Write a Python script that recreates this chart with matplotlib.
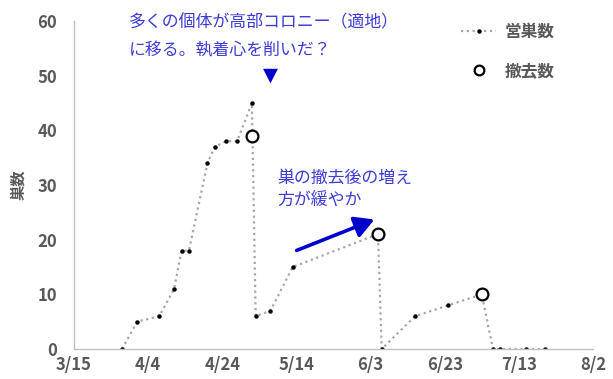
import datetime as dt

import matplotlib
matplotlib.use("Agg")
import matplotlib.dates as mdates
import matplotlib.pyplot as plt
from matplotlib.lines import Line2D

plt.rcParams["font.family"] = ["Noto Sans CJK JP", "DejaVu Sans"]

# --- Data ---
start = dt.date(2021, 3, 15)
nest_days = [13, 17, 23, 27, 29, 31, 36, 38, 41, 44, 48, 49, 53, 59, 82, 83,
             92, 101, 110, 113, 115, 122, 127]
nest_counts = [0, 5, 6, 11, 18, 18, 34, 37, 38, 38, 45, 6, 7, 15, 21, 0,
               6, 8, 10, 0, 0, 0, 0]
removal_days = [48, 82, 110]
removal_counts = [39, 21, 10]
tick_days = [0, 20, 40, 60, 80, 100, 120, 140]

nest_dates = [start + dt.timedelta(days=d) for d in nest_days]
removal_dates = [start + dt.timedelta(days=d) for d in removal_days]
tick_dates = [start + dt.timedelta(days=d) for d in tick_days]

W, H = 613, 379
grey = "#595959"
blue_text = "#3b3bd6"
blue_mark = "#0000cc"


def px(x, y):
    """Pixel position (from top-left) to figure fraction."""
    return x / W, 1 - y / H


fig = plt.figure(figsize=(W / 100, H / 100), dpi=100)
ax = fig.add_axes([74 / W, 30 / H, (593 - 74) / W, (349 - 21) / H])

ax.plot(nest_dates, nest_counts, linestyle=(0, (1, 1.6)), color="#a6a6a6",
        linewidth=1.6, marker="o", markersize=2.2, markerfacecolor="black",
        markeredgecolor="black", zorder=2)
ax.plot(removal_dates, removal_counts, linestyle="none", marker="o",
        markersize=8.5, markerfacecolor="white", markeredgecolor="black",
        markeredgewidth=1.6, zorder=3)

ax.set_xlim(tick_dates[0], tick_dates[-1])
ax.set_ylim(0, 60)
ax.set_xticks(tick_dates)
ax.xaxis.set_major_formatter(
    matplotlib.ticker.FuncFormatter(
        lambda v, pos: f"{mdates.num2date(v).month}/{mdates.num2date(v).day}"))
ax.set_yticks(range(0, 61, 10))
ax.tick_params(length=0, labelsize=12, labelcolor=grey)
ax.tick_params(axis="x", pad=5)
ax.tick_params(axis="y", pad=12)
for lab in ax.get_xticklabels() + ax.get_yticklabels():
    lab.set_fontweight("bold")

for side in ["top", "right"]:
    ax.spines[side].set_visible(False)
ax.spines["left"].set_color("#bfbfbf")
ax.spines["bottom"].set_color("#bfbfbf")
ax.spines["left"].set_linewidth(1.0)
ax.spines["bottom"].set_linewidth(1.0)

fig.text(*px(18, 185), "巣数", rotation=90, ha="center", va="center",
         fontsize=11, fontweight="bold", color=grey)

# Notes on the chart
fig.text(*px(129, 22), "多くの個体が高部コロニー（適地）", ha="left", va="center",
         fontsize=12.2, color=blue_text)
fig.text(*px(129, 50), "に移る。執着心を削いだ？", ha="left", va="center",
         fontsize=12.2, color=blue_text)
fig.text(*px(270, 75), "▼", ha="center", va="center", fontsize=14,
         color=blue_mark, family=["DejaVu Sans"])

fig.text(*px(277, 178), "巣の撤去後の増え", ha="left", va="center",
         fontsize=12.2, color=blue_text)
fig.text(*px(277, 200), "方が緩やか", ha="left", va="center",
         fontsize=12.2, color=blue_text)
fig.add_artist(matplotlib.patches.FancyArrowPatch(
    px(294, 251.5), px(377, 218.5), transform=fig.transFigure,
    arrowstyle="-|>,head_length=9,head_width=5", mutation_scale=1.3,
    color=blue_mark, linewidth=2.6))

# Legend
handles = [
    Line2D([], [], linestyle=(0, (1, 1.6)), color="#a6a6a6", linewidth=1.6,
           marker="o", markersize=2.2, markerfacecolor="black",
           markeredgecolor="black"),
    Line2D([], [], linestyle="none", marker="o", markersize=7,
           markerfacecolor="white", markeredgecolor="black",
           markeredgewidth=1.6),
]
fig.legend(handles, ["営巣数", "撤去数"], loc="upper left",
           bbox_to_anchor=px(446, 8), frameon=False, handlelength=2.1,
           handletextpad=0.5, labelspacing=1.25,
           prop={"size": 12, "weight": "bold"}, labelcolor=grey)

fig.savefig("out.png", dpi=100)
